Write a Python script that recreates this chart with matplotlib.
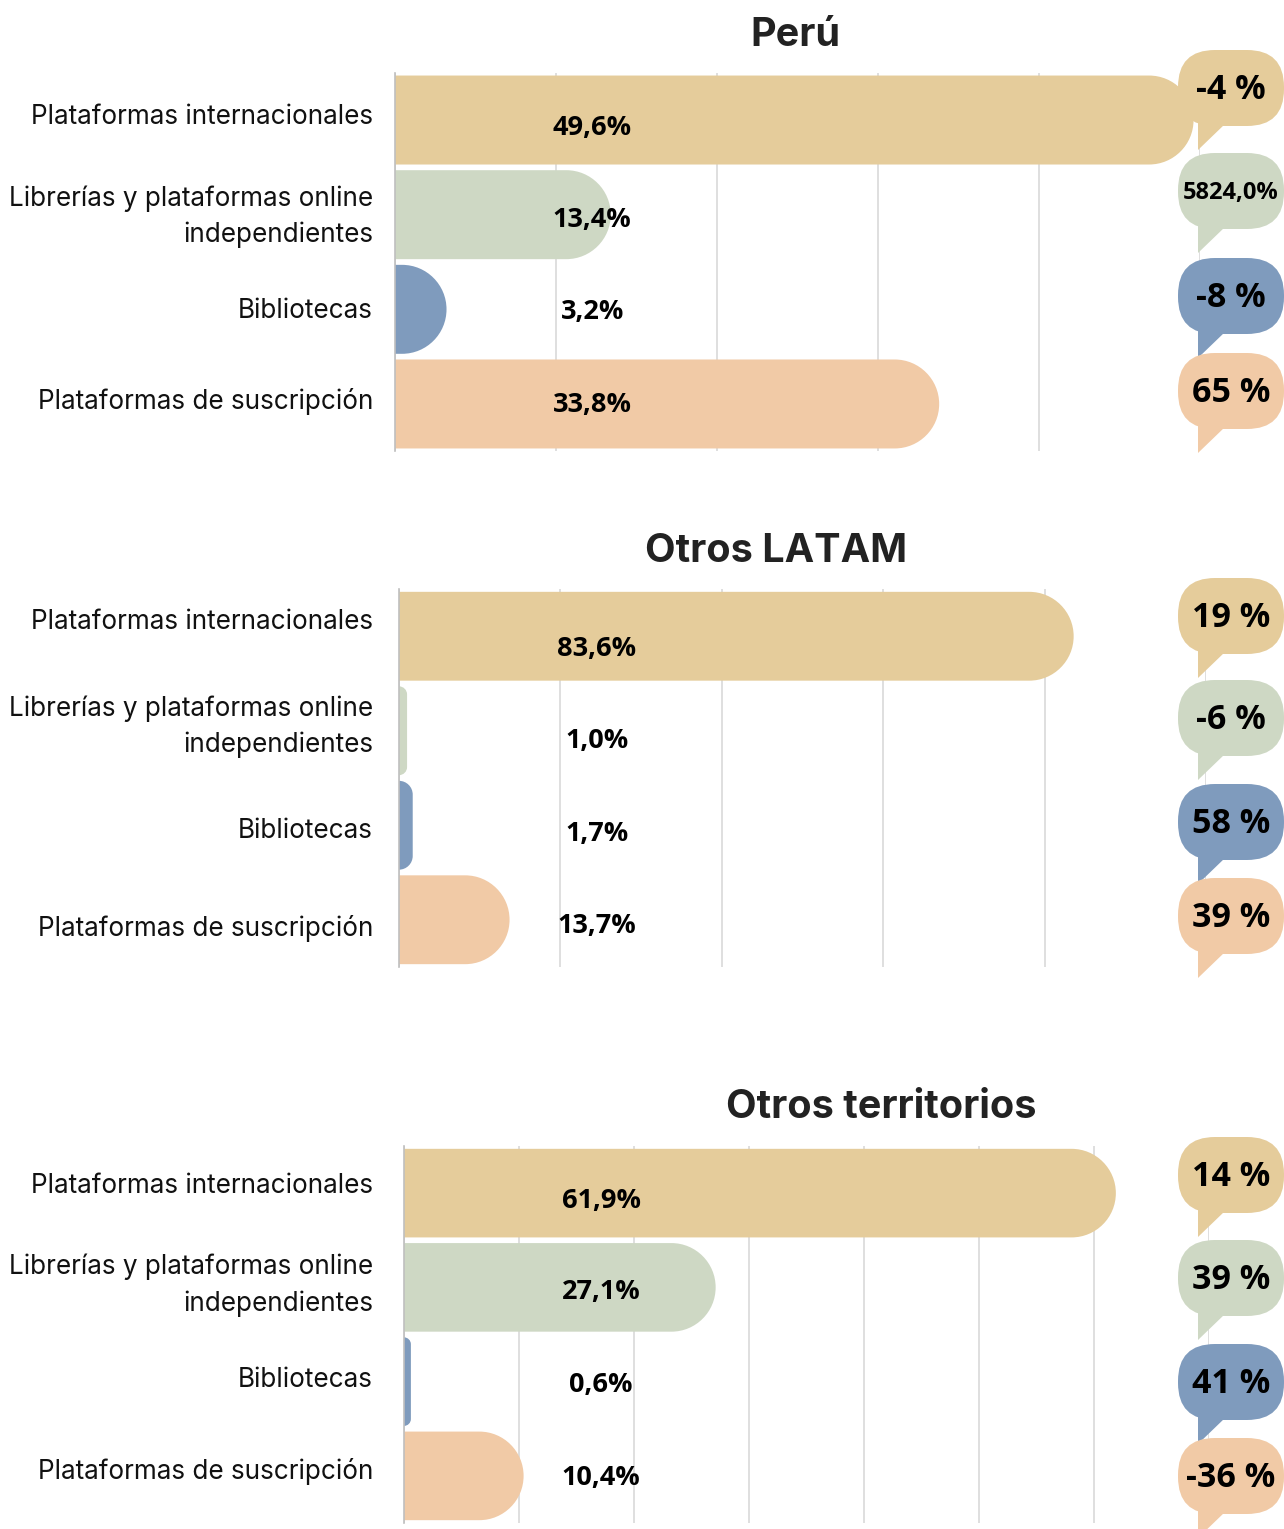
import matplotlib
matplotlib.use("Agg")
import matplotlib.pyplot as plt
from matplotlib.path import Path
from matplotlib.patches import PathPatch, FancyBboxPatch, Polygon
from matplotlib.transforms import IdentityTransform

# ---------------- data ----------------
categories = ["Plataformas internacionales",
              "Librerías y plataformas online\nindependientes",
              "Bibliotecas",
              "Plataformas de suscripción"]
colors = ["#E5CC9B", "#CED8C4", "#7F9BBD", "#F1CAA6"]

titles = ["Perú", "Otros LATAM", "Otros territorios"]
peru_values = [49.6, 13.4, 3.2, 33.8]
latam_values = [83.6, 1.0, 1.7, 13.7]
otros_values = [61.9, 27.1, 0.6, 10.4]
peru_changes = ["-4 %", "5824,0%", "-8 %", "65 %"]
latam_changes = ["19 %", "-6 %", "58 %", "39 %"]
otros_changes = ["14 %", "39 %", "41 %", "-36 %"]
x_max = [50, 100, 70]
x_step = [10, 20, 10]

values = [peru_values, latam_values, otros_values]
changes = [peru_changes, latam_changes, otros_changes]

# ---------------- layout (pixels) ----------------
W, H = 1284, 1529
fig = plt.figure(figsize=(W / 100, H / 100), dpi=100)

def fx(x):
    return x / W

def fy(y):
    return 1 - y / H

# axes boxes: left, right, top, bottom in image pixels
boxes = [(395, 1200, 72.7, 451.3), (399, 1206, 589, 967), (404, 1209, 1146, 1523)]
title_pos = [(795, 35), (776, 552), (881, 1108)]
label_offsets = [[-3, 2, 2, -2], [-14, -4, 6, 9], [-7, -2, -2, -4]]
value_offsets = [[8, 5, 3, 1], [13, 10, 9, 6], [8, 5, 3, 2]]
bubble_y = [[88, 191, 296, 391], [616, 718, 822, 916], [1175, 1278, 1382, 1476]]
bubble_cx = 1231
bubble_w, bubble_h = 106, 76

label_font = "Inter"
value_font = "Open Sans"


def rounded_bar(ax, rect, color):
    (x0, y0), (x1, y1) = ax.transData.transform(
        [(rect.get_x(), rect.get_y()),
         (rect.get_x() + rect.get_width(), rect.get_y() + rect.get_height())])
    ylo, yhi = min(y0, y1), max(y0, y1)
    h = yhi - ylo
    w = x1 - x0
    r = min(h / 2, w)
    k = 0.5523
    verts = [(x0, ylo), (x1 - r, ylo),
             (x1 - r + k * r, ylo), (x1, ylo + r - k * r), (x1, ylo + r),
             (x1, yhi - r),
             (x1, yhi - r + k * r), (x1 - r + k * r, yhi), (x1 - r, yhi),
             (x0, yhi), (x0, ylo)]
    codes = [Path.MOVETO, Path.LINETO,
             Path.CURVE4, Path.CURVE4, Path.CURVE4,
             Path.LINETO,
             Path.CURVE4, Path.CURVE4, Path.CURVE4,
             Path.LINETO, Path.CLOSEPOLY]
    p = PathPatch(Path(verts, codes), facecolor=color, edgecolor="none",
                  transform=IdentityTransform(), clip_on=False, zorder=2)
    ax.add_artist(p)


def bubble(cx, cy, color, text):
    # body in display coords (origin bottom-left)
    dy = H - cy
    x0 = cx - bubble_w / 2
    y0 = dy - bubble_h / 2
    body = FancyBboxPatch((x0 + 37, y0 + 37), bubble_w - 74, bubble_h - 74,
                          boxstyle="round,pad=37,rounding_size=37",
                          facecolor=color, edgecolor="none",
                          transform=IdentityTransform(), zorder=5)
    fig.add_artist(body)
    tail = Polygon([(cx - 33, y0 + 14), (cx - 33, y0 - 24), (cx - 6, y0 + 2),
                    (cx - 6, y0 + 14)],
                   closed=True, facecolor=color, edgecolor="none",
                   transform=IdentityTransform(), zorder=5)
    fig.add_artist(tail)
    size = 17 if len(text) > 5 else 24.5
    fig.text(fx(cx), fy(cy + 2), text, ha="center", va="center", fontsize=size,
             fontweight="bold", family=[value_font, "DejaVu Sans"], zorder=6)


for i in range(3):
    left, right, top, bottom = boxes[i]
    ax = fig.add_axes([fx(left), fy(bottom), fx(right) - fx(left), fy(top) - fy(bottom)])
    ypos = list(range(len(categories)))
    bars = ax.barh(ypos, values[i], height=0.94, color=colors)
    ax.set_xlim(0, x_max[i])
    ax.set_ylim(len(categories) - 0.5, -0.5)
    ax.set_xticks(range(0, x_max[i] + 1, x_step[i]))
    ax.xaxis.grid(True, color="#D9D9D9", linewidth=1.2)
    ax.set_axisbelow(True)
    ax.tick_params(axis="both", length=0, labelbottom=False, labelleft=False)
    for s in ["top", "right", "bottom"]:
        ax.spines[s].set_visible(False)
    ax.spines["left"].set_color("#BFBFBF")
    ax.spines["left"].set_linewidth(1.2)
    ax.spines["left"].set_zorder(3)
    for rect, c in zip(bars, colors):
        rect.set_visible(False)
        rounded_bar(ax, rect, c)

    # category labels, value labels, change bubbles
    px_per_unit = (bottom - top) / len(categories)
    for j, cat in enumerate(categories):
        yc = top + (j + 0.5) * px_per_unit
        fig.text(fx(373), fy(yc + label_offsets[i][j]), cat, ha="right", va="center",
                 fontsize=18.8, family=[label_font, "DejaVu Sans"], color="#111111",
                 linespacing=1.5)
        fig.text(fx(left + 0.245 * (right - left)), fy(yc + value_offsets[i][j]),
                 f"{values[i][j]:.1f}".replace(".", ",") + "%",
                 ha="center", va="center", fontsize=19.5, fontweight="bold",
                 family=[value_font, "DejaVu Sans"], zorder=4)
        bubble(bubble_cx, bubble_y[i][j], colors[j], changes[i][j])

    fig.text(fx(title_pos[i][0]), fy(title_pos[i][1]), titles[i], ha="center",
             va="center", fontsize=28.5, fontweight="bold",
             family=[label_font, "DejaVu Sans"], color="#222222")

fig.savefig("out.png", dpi=100)
